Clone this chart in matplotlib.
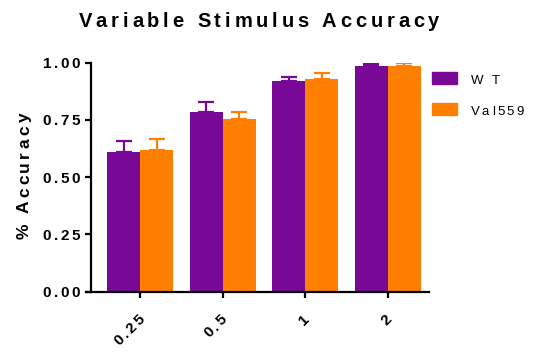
import matplotlib
matplotlib.use("Agg")
import matplotlib.pyplot as plt
import numpy as np
from matplotlib.font_manager import FontProperties, findfont, get_font
from matplotlib.ft2font import LOAD_NO_HINTING
from matplotlib.patches import Rectangle
from matplotlib.transforms import IdentityTransform

# Accuracy per stimulus level
levels = ["0.25", "0.5", "1", "2"]
wt_mean = [0.611, 0.786, 0.920, 0.986]
wt_err = [0.047, 0.042, 0.019, 0.007]
val_mean = [0.617, 0.753, 0.929, 0.987]
val_err = [0.048, 0.030, 0.026, 0.010]
groups = ["W T", "Val559"]
colors = ["#780896", "#FF8000"]
yticks = [0.00, 0.25, 0.50, 0.75, 1.00]

W, H, DPI = 534, 354, 100
fig = plt.figure(figsize=(W / DPI, H / DPI), dpi=DPI)
ax = fig.add_axes([91 / W, (H - 291.7) / H, 338 / W, 229 / H])

x = np.arange(len(levels))
bw = 0.4
ax.bar(x - bw / 2, wt_mean, bw, color=colors[0], zorder=2)
ax.bar(x + bw / 2, val_mean, bw, color=colors[1], zorder=2)
ax.errorbar(x - bw / 2, wt_mean, yerr=[np.zeros(4), wt_err], fmt="none",
            ecolor=colors[0], elinewidth=1.6, capsize=6, capthick=1.6, zorder=3)
ax.errorbar(x + bw / 2, val_mean, yerr=[np.zeros(4), val_err], fmt="none",
            ecolor=colors[1], elinewidth=1.6, capsize=6, capthick=1.6, zorder=3)

ax.set_xlim(-0.6, 3.5)
ax.set_ylim(0, 1.0)
ax.set_xticks(x)
ax.set_yticks(yticks)
ax.set_xticklabels([])
ax.set_yticklabels([])
for s in ["top", "right"]:
    ax.spines[s].set_visible(False)
for s in ["left", "bottom"]:
    ax.spines[s].set_linewidth(1.6)
ax.spines["left"].set_bounds(0, 1.0)
ax.spines["bottom"].set_bounds(-0.66, 3.5)
ax.tick_params(length=4, width=1.6)


def spaced_text(s, x0, y0, size, track, angle=0, align="left", weight="bold"):
    """Draw s char by char in display pixels with extra tracking (in em)."""
    prop = FontProperties(family="Liberation Sans", weight=weight, size=size)
    font = get_font(findfont(prop))
    font.set_size(size, DPI)
    adv = []
    for c in s:
        g = font.load_char(ord(c), flags=LOAD_NO_HINTING)
        adv.append(g.linearHoriAdvance / 65536)
    px = size * DPI / 72
    steps = [a + track * px for a in adv]
    total = sum(steps) - track * px
    start = {"left": 0, "center": -total / 2, "right": -total}[align]
    th = np.deg2rad(angle)
    d = np.array([np.cos(th), np.sin(th)])
    pos = start
    for c, st in zip(s, steps):
        px_, py_ = np.array([x0, H - y0]) + d * pos
        fig.text(px_, py_, c, fontproperties=prop, rotation=angle,
                 rotation_mode="anchor", ha="left", va="baseline",
                 transform=IdentityTransform())
        pos += st


fig.canvas.draw()

# Title and axis label
spaced_text("Variable Stimulus Accuracy", 259, 27, 14.5, 0.19, align="center")
spaced_text("% Accuracy", 29, 176, 12.5, 0.18, angle=90, align="center")

# Y tick labels
for v in yticks:
    yd = ax.transData.transform((0, v))[1]
    spaced_text(f"{v:.2f}", 80, H - yd + 5.5, 11, 0.17, align="right")

# X tick labels, rotated
for xi, lab in zip(x, levels):
    xd = ax.transData.transform((xi, 0))[0]
    spaced_text(lab, xd + 5, 320, 11, 0.16, angle=45, align="right")

# Legend
for i, (g, c) in enumerate(zip(groups, colors)):
    ytop = 71.7 + i * 31
    fig.add_artist(Rectangle((432, H - ytop - 12), 25, 12, color=c,
                             transform=IdentityTransform()))
    spaced_text(g, 470.7, ytop + 12, 9.5, 0.18, weight="normal")

fig.savefig("out.png", dpi=DPI)
